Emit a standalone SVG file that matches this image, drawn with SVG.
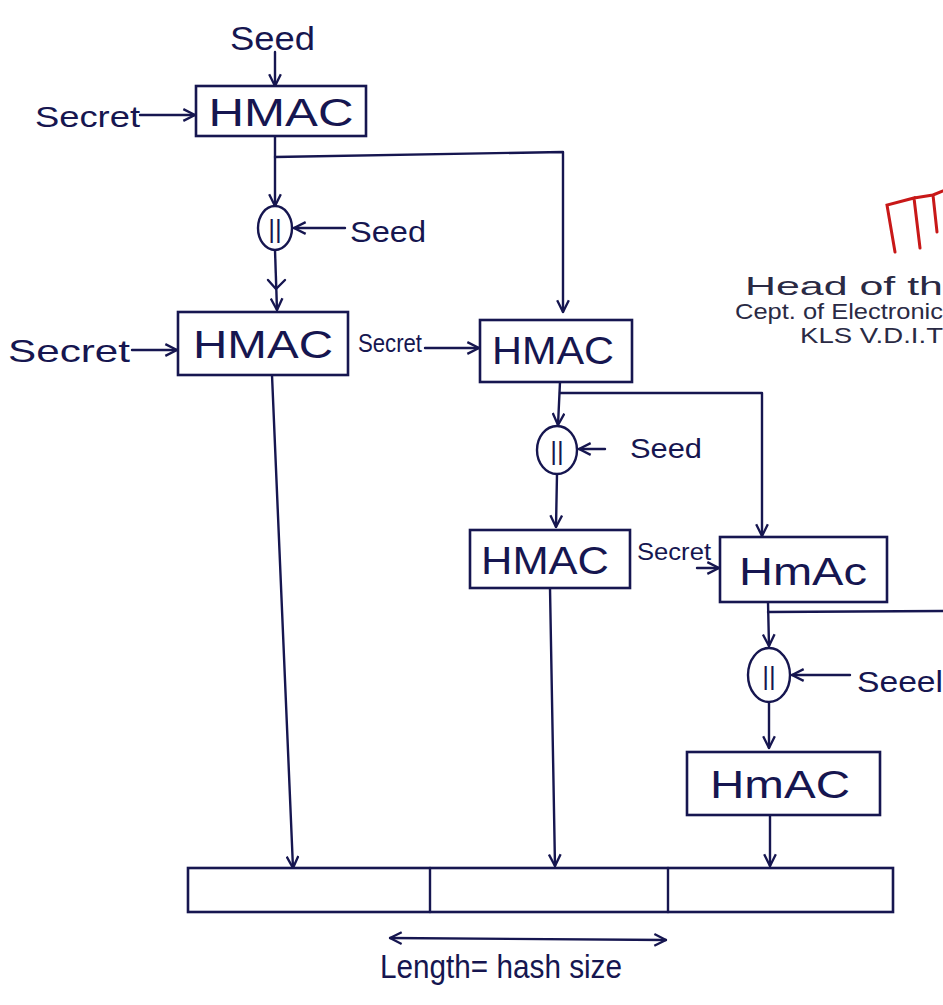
<svg xmlns="http://www.w3.org/2000/svg" width="943" height="1005" viewBox="0 0 943 1005">
<defs>
<marker id="v" viewBox="0 0 12 12" refX="11" refY="6" markerWidth="14" markerHeight="14" markerUnits="userSpaceOnUse" orient="auto">
<path d="M1,1 L11,6 L1,11" fill="none" stroke="#161650" stroke-width="2"/>
</marker>
<marker id="vs" viewBox="0 0 12 12" refX="1" refY="6" markerWidth="14" markerHeight="14" markerUnits="userSpaceOnUse" orient="auto">
<path d="M11,1 L1,6 L11,11" fill="none" stroke="#161650" stroke-width="2"/>
</marker>
</defs>
<style>
.ln{fill:none;stroke:#161650;stroke-width:2.4;stroke-linecap:round;stroke-linejoin:round}
.ar{marker-end:url(#v)}
.box{fill:#fff;stroke:#161650;stroke-width:2.6}
.op{fill:#fff;stroke:#161650;stroke-width:2.4}
.hm{font-family:"Liberation Sans",Arial,sans-serif;font-size:38px;fill:#161650;text-anchor:middle}
.lb{font-family:"Liberation Sans",Arial,sans-serif;font-size:30px;fill:#161650}
.cc{font-family:"Liberation Sans",Arial,sans-serif;font-size:26px;fill:#161650;text-anchor:middle}
.st{font-family:"Liberation Sans",Arial,sans-serif;fill:#2a2a44}
</style>
<rect width="943" height="1005" fill="#fff"/>

<g id="connectors">
<path class="ln ar" d="M275,52 L275,86"/>
<path class="ln ar" d="M140,115 L195,115"/>
<path class="ln ar" d="M275,136 L275,206"/>
<path class="ln ar" d="M275,157 L563,152 L563,312"/>
<path class="ln ar" d="M345,228 L294,228"/>
<path class="ln ar" d="M275,250 L277,310"/>
<path class="ln" d="M268,280 L276,289 L285,280"/>
<path class="ln ar" d="M132,350 L177,350"/>
<path class="ln ar" d="M425,348 L479,348"/>
<path class="ln ar" d="M272,375 L293,868"/>
<path class="ln ar" d="M560,382 L558,425"/>
<path class="ln ar" d="M560,393 L762,393 L762,536"/>
<path class="ln ar" d="M605,449 L579,449"/>
<path class="ln ar" d="M557,474 L556,527"/>
<path class="ln ar" d="M697,568 L719,568"/>
<path class="ln ar" d="M550,588 L555,866"/>
<path class="ln ar" d="M768,602 L769,646"/>
<path class="ln" d="M768,612 L943,611"/>
<path class="ln ar" d="M850,675 L792,675"/>
<path class="ln ar" d="M769,703 L769,748"/>
<path class="ln ar" d="M770,815 L770,866"/>
<path class="ln" d="M390,938 L666,940" marker-start="url(#vs)" marker-end="url(#v)"/>
</g>

<g id="seed-top"><text class="lb" x="230" y="50" textLength="85" lengthAdjust="spacingAndGlyphs" style="font-size:34px">Seed</text></g>
<g id="secret-1"><text class="lb" x="35" y="127" textLength="105" lengthAdjust="spacingAndGlyphs">Secret</text></g>
<g id="hmac1"><rect class="box" x="196" y="86" width="170" height="50"/><text class="hm" x="281" y="126" textLength="145" lengthAdjust="spacingAndGlyphs">HMAC</text></g>
<g id="concat1"><ellipse class="op" cx="275" cy="228" rx="17" ry="22"/><text class="cc" x="275" y="238">||</text></g>
<g id="seed-1"><text class="lb" x="350" y="242" textLength="76" lengthAdjust="spacingAndGlyphs">Seed</text></g>
<g id="secret-2"><text class="lb" x="8" y="362" textLength="122" lengthAdjust="spacingAndGlyphs" style="font-size:32px">Secret</text></g>
<g id="hmac2"><rect class="box" x="178" y="312" width="170" height="63"/><text class="hm" x="263" y="358" textLength="140" lengthAdjust="spacingAndGlyphs">HMAC</text></g>
<g id="secret-3"><text class="lb" x="358" y="352" textLength="64" lengthAdjust="spacingAndGlyphs" style="font-size:26px">Secret</text></g>
<g id="hmac3"><rect class="box" x="480" y="320" width="152" height="62"/><text class="hm" x="553" y="364" textLength="122" lengthAdjust="spacingAndGlyphs">HMAC</text></g>
<g id="concat2"><ellipse class="op" cx="557" cy="450" rx="20" ry="24"/><text class="cc" x="557" y="460">||</text></g>
<g id="seed-2"><text class="lb" x="630" y="458" textLength="72" lengthAdjust="spacingAndGlyphs" style="font-size:28px">Seed</text></g>
<g id="hmac4"><rect class="box" x="470" y="530" width="160" height="58"/><text class="hm" x="545" y="574" textLength="128" lengthAdjust="spacingAndGlyphs">HMAC</text></g>
<g id="secret-4"><text class="lb" x="637" y="560" textLength="74" lengthAdjust="spacingAndGlyphs" style="font-size:24px">Secret</text></g>
<g id="hmac5"><rect class="box" x="720" y="537" width="167" height="65"/><text class="hm" x="803" y="585" textLength="128" lengthAdjust="spacingAndGlyphs">HmAc</text></g>
<g id="concat3"><ellipse class="op" cx="769" cy="675" rx="21" ry="27"/><text class="cc" x="769" y="685">||</text></g>
<g id="seed-3"><text class="lb" x="857" y="692" textLength="86" lengthAdjust="spacingAndGlyphs">Seeel</text></g>
<g id="hmac6"><rect class="box" x="687" y="752" width="193" height="63"/><text class="hm" x="780" y="798" textLength="140" lengthAdjust="spacingAndGlyphs">HmAC</text></g>

<g id="output-bar">
<rect class="box" x="188" y="868" width="705" height="44"/>
<line class="ln" x1="430" y1="868" x2="430" y2="912"/>
<line class="ln" x1="668" y1="868" x2="668" y2="912"/>
</g>
<g id="length-label"><text class="lb" x="380" y="978" textLength="242" lengthAdjust="spacingAndGlyphs" style="font-size:33px">Length= hash size</text></g>

<g id="stamp">
<path d="M895,252 L887,205 L914,198 L920,248 M914,198 L933,195 L937,232 M933,195 L943,191" fill="none" stroke="#c81818" stroke-width="3" stroke-linecap="round"/>
<text class="st" x="745" y="295" font-size="26" textLength="198" lengthAdjust="spacingAndGlyphs">Head of th</text>
<text class="st" x="735" y="319" font-size="22" textLength="208" lengthAdjust="spacingAndGlyphs">Cept. of Electronic</text>
<text class="st" x="800" y="343" font-size="22" textLength="143" lengthAdjust="spacingAndGlyphs">KLS V.D.I.T</text>
</g>
</svg>
